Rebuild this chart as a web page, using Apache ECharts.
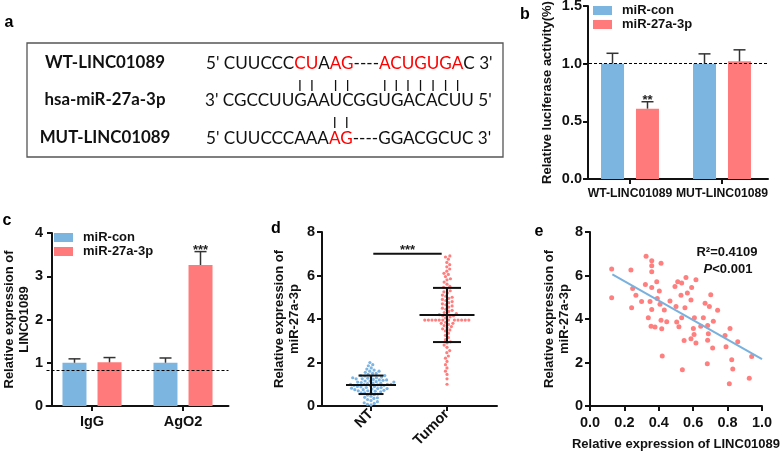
<!DOCTYPE html>
<html><head><meta charset="utf-8">
<script src="https://cdn.jsdelivr.net/npm/echarts@6/dist/echarts.min.js"></script>
<style>html,body{margin:0;padding:0;background:#fff}#c{width:783px;height:452px}</style>
</head><body><div id="c"></div>
<script>
// ---------------- data ----------------
// panel a
const seqLabels = ['WT-LINC01089', 'hsa-miR-27a-3p', 'MUT-LINC01089'];
const seqWT  = [["5' CUUCCC", 0], ["CU", 1], ["A", 0], ["AG", 1], ["----", 0], ["ACUGUGA", 1], ["C 3'", 0]];
const seqMiR = [["3' CGCCUUGAAUCGGUGACACUU 5'", 0]];
const seqMUT = [["5' CUUCCCAAA", 0], ["AG", 1], ["----GGACGCUC 3'", 0]];

// panel b
const groupNames = ['miR-con', 'miR-27a-3p'];
const bCats = ['WT-LINC01089', 'MUT-LINC01089'];
const bCon = [1.0, 1.0];
const bConSD = [0.09, 0.085];
const bMiR = [0.61, 1.02];
const bMiRSD = [0.06, 0.10];
const bMiRSig = ['**', ''];
const bRef = 1.0;

// panel c
const cCats = ['IgG', 'AgO2'];
const cCon = [1.0, 1.0];
const cConSD = [0.09, 0.11];
const cMiR = [1.01, 3.26];
const cMiRSD = [0.11, 0.31];
const cMiRSig = ['', '***'];
const cRef = 0.82;

// panel d
const dCats = ['NT', 'Tumor'];
const dNT = [2.0, 1.9, 1.85, 1.75, 1.7, 1.65, 1.6, 1.6, 1.55, 1.5, 1.5, 1.45,
  1.4, 1.4, 1.38, 1.35, 1.33, 1.3, 1.3, 1.28, 1.25, 1.25, 1.22, 1.2, 1.2, 1.18, 1.15, 1.15,
  1.12, 1.1, 1.1, 1.08, 1.05, 1.05, 1.03, 1.0, 1.0, 1.0, 0.98, 0.97, 0.95, 0.95, 0.93, 0.9, 0.9, 0.88, 0.85, 0.85,
  0.82, 0.8, 0.8, 0.78, 0.75, 0.75, 0.72, 0.7, 0.7, 0.68, 0.65, 0.62, 0.6, 0.6, 0.55,
  0.52, 0.5, 0.45, 0.4, 0.38, 0.35, 0.3, 0.25, 0.2, 0.15, 0.12, 0.08, 0.05];
const dTumor = [6.9, 6.85, 6.75, 6.6, 6.5, 6.4, 6.3, 6.2, 6.1, 6.05, 5.95, 5.85, 5.8, 5.7, 5.6, 5.5, 5.45, 5.4,
  5.3, 5.25, 5.2, 5.1, 5.05, 5.0, 4.95, 4.9, 4.85, 4.8, 4.75, 4.7, 4.65, 4.6, 4.55, 4.5, 4.45, 4.4, 4.35, 4.3,
  4.25, 4.2, 4.2, 4.15, 4.15, 4.1, 4.05,
  3.95, 3.95, 3.95, 3.95, 3.95, 3.95, 3.95, 3.95, 3.95, 3.95, 3.95, 3.95,
  3.85, 3.8, 3.8, 3.75, 3.7, 3.65, 3.6, 3.55, 3.5, 3.45, 3.35, 3.25, 3.15, 3.05, 2.95, 2.9, 2.8, 2.7, 2.55,
  2.45, 2.3, 2.2, 2.05, 1.9, 1.75, 1.6, 1.45, 1.25, 1.0];
const dMean = [0.97, 4.18];
const dSDLow = [0.55, 2.94];
const dSDHigh = [1.40, 5.43];
const dSigY = 7.0;
const dSig = '***';

// panel e
const eX = [0.126, 0.126, 0.238, 0.248, 0.267, 0.242, 0.300, 0.322, 0.326, 0.339, 0.349, 0.355, 0.359, 0.359, 0.359,
  0.359, 0.359, 0.378, 0.388, 0.391, 0.403, 0.407, 0.413, 0.413, 0.417, 0.420, 0.432, 0.446, 0.465, 0.494, 0.500,
  0.504, 0.510, 0.517, 0.529, 0.533, 0.533, 0.537, 0.547, 0.552, 0.558, 0.566, 0.587, 0.587, 0.591, 0.601, 0.605,
  0.607, 0.616, 0.616, 0.644, 0.659, 0.669, 0.682, 0.684, 0.684, 0.688, 0.694, 0.702, 0.713, 0.717, 0.742, 0.785,
  0.791, 0.810, 0.814, 0.824, 0.830, 0.859, 0.926, 0.940];
const eY = [6.30, 4.98, 6.25, 5.40, 5.09, 4.52, 4.80, 5.59, 6.88, 4.06, 4.80, 3.67, 6.68, 6.45, 6.17,
  5.45, 4.44, 3.63, 5.71, 4.94, 5.29, 4.68, 6.56, 3.94, 3.55, 2.30, 4.41, 3.87, 4.83, 5.49, 4.57,
  3.86, 5.71, 3.64, 5.09, 5.65, 4.06, 1.67, 3.01, 4.52, 5.91, 5.19, 4.87, 3.09, 5.45, 3.56, 3.29,
  4.06, 5.80, 2.90, 3.67, 4.06, 4.72, 1.94, 3.70, 3.02, 3.32, 4.57, 5.11, 2.67, 3.90, 4.40, 3.24,
  2.72, 1.02, 3.56, 2.13, 1.70, 2.95, 1.28, 2.28];
const eFitX = [0.13, 1.0];
const eFitY = [6.05, 2.15];
const eR2 = 'R²=0.4109';
const ePval = '<0.001';

// ---------------- styling ----------------
const F = '"Liberation Sans", Arial, sans-serif';
const BLUE = '#7DB5E1', RED = '#FF7B7B';
const BLUE_DOT = '#7DB5E3', RED_DOT = '#FF7F7F';
const INK = '#111';
const axLine = {show: true, onZero: false, lineStyle: {color: INK, width: 2}};
const axTick = {show: true, length: 5, inside: false, lineStyle: {color: INK, width: 2}};
const lab = (size, margin) => ({color: INK, fontFamily: F, fontWeight: 'bold', fontSize: size, margin: margin});
const nameStyle = {color: INK, fontFamily: F, fontWeight: 'bold', fontSize: 13, lineHeight: 15};

const cv = document.createElement('canvas').getContext('2d');
function tw(s, font) { cv.font = font; return cv.measureText(s).width; }

// ---------------- panel a graphics ----------------
const SEQF = 'Lato';
const row1Full = seqWT.map(s => s[0]).join('');
const fsSeq = 17 * 286 / tw(row1Full, '17px ' + SEQF);
const fsLab = 16 * 120 / tw(seqLabels[0], 'bold 16px ' + SEQF);
const seqRows = [[seqWT, 206, 63], [seqMiR, 205, 100], [seqMUT, 206, 138]];
const graphics = [];
graphics.push({type: 'rect', shape: {x: 27, y: 43, width: 476, height: 114}, style: {fill: 'none', stroke: '#555', lineWidth: 1.3}});
seqLabels.forEach((t, i) => {
  graphics.push({type: 'text', x: 105, y: seqRows[i][2], style: {text: t, fill: INK, fontFamily: SEQF, fontWeight: 'bold', fontSize: fsLab, align: 'center', textAlign: 'center', verticalAlign: 'middle', textVerticalAlign: 'middle'}});
});
function redCentres(segs, x0) {
  const out = []; let cum = 0; const f = fsSeq + 'px ' + SEQF;
  segs.forEach(([t, r]) => {
    if (r) for (let j = 0; j < t.length; j++) out.push(x0 + cum + tw(t.slice(0, j), f) + tw(t[j], f) / 2);
    cum += tw(t, f);
  });
  return out;
}
seqRows.forEach(([segs, x0, y]) => {
  const txt = segs.map(([t, r]) => '{' + (r ? 'r' : 'k') + '|' + t + '}').join('');
  graphics.push({type: 'text', x: x0, y: y, style: {text: txt, fontFamily: SEQF, fontSize: fsSeq, fill: INK, verticalAlign: 'middle', textVerticalAlign: 'middle',
    rich: {k: {fill: INK, fontFamily: SEQF, fontSize: fsSeq}, r: {fill: '#FF0000', fontFamily: SEQF, fontSize: fsSeq}}}});
});
redCentres(seqWT, 206).forEach(x => graphics.push({type: 'line', shape: {x1: x, y1: 80, x2: x, y2: 91}, style: {stroke: INK, lineWidth: 1.3}}));
redCentres(seqMUT, 206).forEach(x => graphics.push({type: 'line', shape: {x1: x, y1: 117, x2: x, y2: 128}, style: {stroke: INK, lineWidth: 1.3}}));

// panel letters
[['a', 9, 23], ['b', 525, 15], ['c', 7, 221], ['d', 276, 229], ['e', 539, 232]].forEach(([t, x, y]) => {
  graphics.push({type: 'text', x: x, y: y, style: {text: t, fill: '#000', fontFamily: F, fontWeight: 'bold', fontSize: 16, align: 'center', textAlign: 'center', verticalAlign: 'middle', textVerticalAlign: 'middle'}});
});
// panel e annotation
graphics.push({type: 'text', x: 727, y: 252, style: {text: eR2, fill: INK, fontFamily: F, fontWeight: 'bold', fontSize: 13, align: 'center', textAlign: 'center', verticalAlign: 'middle', textVerticalAlign: 'middle'}});
graphics.push({type: 'text', x: 728, y: 269, style: {text: '{i|P}{n|' + ePval + '}', fill: INK, fontFamily: F, fontWeight: 'bold', fontSize: 13, align: 'center', textAlign: 'center', verticalAlign: 'middle', textVerticalAlign: 'middle',
  rich: {i: {fontStyle: 'italic', fontWeight: 'bold', fontFamily: F, fontSize: 13, fill: INK}, n: {fontWeight: 'bold', fontFamily: F, fontSize: 13, fill: INK}}}});

// ---------------- series helpers ----------------
function errSeries(xi, vals, sds, sigs, off) {
  return {type: 'custom', xAxisIndex: xi, yAxisIndex: xi, z: 5, silent: true,
    data: vals.map((v, i) => [i, v, sds[i]]),
    renderItem: (params, api) => {
      const i = params.dataIndex;
      const b = api.coord([api.value(0), api.value(1)]);
      const t = api.coord([api.value(0), api.value(1) + api.value(2)]);
      const x = b[0] + off;
      const ch = [
        {type: 'line', shape: {x1: x, y1: b[1], x2: x, y2: t[1]}, style: {stroke: '#333', lineWidth: 1.5}},
        {type: 'line', shape: {x1: x - 6, y1: t[1], x2: x + 6, y2: t[1]}, style: {stroke: '#333', lineWidth: 1.5}}
      ];
      if (sigs && sigs[i]) ch.push({type: 'text', x: x, y: t[1] - 1.5, style: {text: sigs[i], fill: '#222', fontFamily: F, fontWeight: 'bold', fontSize: 13, align: 'center', verticalAlign: 'middle'}});
      return {type: 'group', children: ch};
    }};
}
const refLine = (v) => ({silent: true, symbol: 'none', label: {show: false}, lineStyle: {type: [3, 2], color: '#000', width: 1.2}, data: [{yAxis: v}]});

const option = {
  animation: false,
  backgroundColor: '#fff',
  graphic: {elements: graphics},
  legend: [
    {left: 593, top: 4, orient: 'vertical', itemGap: 1, itemWidth: 19, itemHeight: 9, icon: 'rect', selectedMode: false, padding: 0,
      data: groupNames, textStyle: {fontFamily: F, fontWeight: 'bold', fontSize: 13, color: INK, padding: [0, 0, 0, 5]}},
    {left: 54, top: 231, orient: 'vertical', itemGap: 1, itemWidth: 19, itemHeight: 9, icon: 'rect', selectedMode: false, padding: 0,
      data: groupNames, textStyle: {fontFamily: F, fontWeight: 'bold', fontSize: 13, color: INK, padding: [0, 0, 0, 5]}}
  ],
  grid: [
    {left: 584, top: 6, width: 184, height: 173, containLabel: false, outerBoundsMode: 'none'},
    {left: 46.5, top: 233, width: 182, height: 173, containLabel: false, outerBoundsMode: 'none'},
    {left: 322, top: 232, width: 175, height: 174, containLabel: false, outerBoundsMode: 'none'},
    {left: 590, top: 232, width: 172, height: 174, containLabel: false, outerBoundsMode: 'none'}
  ],
  xAxis: [
    {gridIndex: 0, type: 'category', data: bCats, axisLine: axLine, axisTick: Object.assign({alignWithLabel: true}, axTick),
      axisLabel: Object.assign({interval: 0}, lab(12.2, 9)), splitLine: {show: false}},
    {gridIndex: 1, type: 'category', data: cCats, axisLine: axLine, axisTick: Object.assign({alignWithLabel: true}, axTick),
      axisLabel: Object.assign({interval: 0}, lab(14.5, 8)), splitLine: {show: false}},
    {gridIndex: 2, type: 'value', min: 0.355, max: 2.658, axisLine: axLine, axisTick: Object.assign({customValues: [1, 2]}, axTick),
      axisLabel: Object.assign({customValues: [1, 2], rotate: 45, formatter: v => dCats[Math.round(v) - 1] || ''}, lab(14.5, 6)), splitLine: {show: false}},
    {gridIndex: 3, type: 'value', min: 0, max: 1, interval: 0.2, axisLine: axLine, axisTick: axTick,
      axisLabel: Object.assign({formatter: v => v.toFixed(1)}, lab(14.5, 9)), splitLine: {show: false},
      name: 'Relative expression of LINC01089', nameLocation: 'middle', nameGap: 31, nameTextStyle: nameStyle, nameMoveOverlap: false}
  ],
  yAxis: [
    {gridIndex: 0, type: 'value', min: 0, max: 1.5, interval: 0.5, offset: -4, axisLine: axLine, axisTick: axTick,
      axisLabel: Object.assign({formatter: v => v.toFixed(1)}, lab(14.5, 6)), splitLine: {show: false},
      name: 'Relative luciferase activity(%)', nameLocation: 'middle', nameGap: 33, nameTextStyle: nameStyle, nameMoveOverlap: false},
    {gridIndex: 1, type: 'value', min: 0, max: 4, interval: 1, offset: -5.5, axisLine: axLine, axisTick: axTick,
      axisLabel: lab(14.5, 9), splitLine: {show: false},
      name: 'Relative expression of\nLINC01089', nameLocation: 'middle', nameGap: 20, nameTextStyle: nameStyle, nameMoveOverlap: false},
    {gridIndex: 2, type: 'value', min: 0, max: 8, interval: 2, axisLine: axLine, axisTick: axTick,
      axisLabel: lab(14.5, 7), splitLine: {show: false},
      name: 'Relative expression of\nmiR-27a-3p', nameLocation: 'middle', nameGap: 20, nameTextStyle: nameStyle, nameMoveOverlap: false},
    {gridIndex: 3, type: 'value', min: 0, max: 8, interval: 2, axisLine: axLine, axisTick: axTick,
      axisLabel: lab(14.5, 7), splitLine: {show: false},
      name: 'Relative expression of\nmiR-27a-3p', nameLocation: 'middle', nameGap: 18, nameTextStyle: nameStyle, nameMoveOverlap: false}
  ],
  series: [
    {name: groupNames[0], type: 'bar', xAxisIndex: 0, yAxisIndex: 0, data: bCon, barWidth: 23, barGap: '52%', itemStyle: {color: BLUE}},
    {name: groupNames[1], type: 'bar', xAxisIndex: 0, yAxisIndex: 0, data: bMiR, barWidth: 23, barGap: '52%', itemStyle: {color: RED}, markLine: refLine(bRef)},
    errSeries(0, bCon, bConSD, null, -17.5),
    errSeries(0, bMiR, bMiRSD, bMiRSig, 17.5),
    {name: groupNames[0], type: 'bar', xAxisIndex: 1, yAxisIndex: 1, data: cCon, barWidth: 24, barGap: '46%', itemStyle: {color: BLUE}},
    {name: groupNames[1], type: 'bar', xAxisIndex: 1, yAxisIndex: 1, data: cMiR, barWidth: 24, barGap: '46%', itemStyle: {color: RED}, markLine: refLine(cRef)},
    errSeries(1, cCon, cConSD, null, -17.5),
    errSeries(1, cMiR, cMiRSD, cMiRSig, 17.5),
    {id: 'dNT', type: 'scatter', xAxisIndex: 2, yAxisIndex: 2, symbolSize: 3.2, itemStyle: {color: BLUE_DOT, opacity: 1}, data: dNT.map(v => [1, v]), silent: true},
    {id: 'dTumor', type: 'scatter', xAxisIndex: 2, yAxisIndex: 2, symbolSize: 3.2, itemStyle: {color: RED_DOT, opacity: 1}, data: dTumor.map(v => [2, v]), silent: true},
    {type: 'custom', xAxisIndex: 2, yAxisIndex: 2, z: 6, silent: true,
      data: dMean.map((m, i) => [i + 1, m, dSDLow[i], dSDHigh[i]]),
      renderItem: (params, api) => {
        const i = params.dataIndex;
        const c = api.coord([api.value(0), api.value(1)]);
        const lo = api.coord([api.value(0), api.value(2)]);
        const hi = api.coord([api.value(0), api.value(3)]);
        const mh = [25, 27.5][i], sh = [12.5, 14][i];
        const st = {stroke: INK, lineWidth: 2};
        return {type: 'group', children: [
          {type: 'line', shape: {x1: c[0] - mh, y1: c[1], x2: c[0] + mh, y2: c[1]}, style: st},
          {type: 'line', shape: {x1: c[0] - sh, y1: lo[1], x2: c[0] + sh, y2: lo[1]}, style: st},
          {type: 'line', shape: {x1: c[0] - sh, y1: hi[1], x2: c[0] + sh, y2: hi[1]}, style: st},
          {type: 'line', shape: {x1: c[0], y1: lo[1], x2: c[0], y2: hi[1]}, style: st}
        ]};
      }},
    {type: 'custom', xAxisIndex: 2, yAxisIndex: 2, z: 6, silent: true,
      data: [[1.03, 1.93, dSigY]],
      renderItem: (params, api) => {
        const a = api.coord([api.value(0), api.value(2)]);
        const b = api.coord([api.value(1), api.value(2)]);
        return {type: 'group', children: [
          {type: 'line', shape: {x1: a[0], y1: a[1], x2: b[0], y2: b[1]}, style: {stroke: INK, lineWidth: 2}},
          {type: 'text', x: (a[0] + b[0]) / 2, y: a[1] - 3, style: {text: dSig, fill: '#222', fontFamily: F, fontWeight: 'bold', fontSize: 13, align: 'center', verticalAlign: 'middle'}}
        ]};
      }},
    {type: 'scatter', xAxisIndex: 3, yAxisIndex: 3, symbolSize: 5, itemStyle: {color: RED_DOT, opacity: 1}, data: eX.map((x, i) => [x, eY[i]]), silent: true},
    {type: 'line', xAxisIndex: 3, yAxisIndex: 3, showSymbol: false, symbol: 'none', z: 4, silent: true,
      lineStyle: {color: '#79B1DE', width: 2}, data: eFitX.map((x, i) => [x, eFitY[i]])}
  ]
};

const chart = echarts.init(document.getElementById('c'), null, {renderer: 'canvas'});
chart.setOption(option);

// beeswarm layout for panel d (horizontal offsets only, values untouched)
function swarm(vals, centre, dpx) {
  const p0 = chart.convertToPixel({gridIndex: 2}, [1, 0]);
  const p1 = chart.convertToPixel({gridIndex: 2}, [2, 1]);
  const kx = p1[0] - p0[0], ky = p0[1] - p1[1];
  const order = vals.map((v, i) => i).sort((a, b) => vals[a] - vals[b]);
  const placed = []; const xs = new Array(vals.length);
  order.forEach(idx => {
    const y = vals[idx] * ky;
    const iv = [];
    placed.forEach(p => { const dy = Math.abs(p.y - y); if (dy < dpx) { const w = Math.sqrt(dpx * dpx - dy * dy); iv.push([p.x - w, p.x + w]); } });
    const cands = [0]; iv.forEach(([a, b]) => { cands.push(a, b); });
    cands.sort((a, b) => Math.abs(a) - Math.abs(b));
    let x = 0;
    for (const c of cands) { if (!iv.some(([a, b]) => c > a + 1e-6 && c < b - 1e-6)) { x = c; break; } }
    placed.push({x: x, y: y});
    xs[idx] = centre + x / kx;
  });
  return vals.map((v, i) => [xs[i], v]);
}
chart.setOption({series: [{id: 'dNT', data: swarm(dNT, 1, 3.6)}, {id: 'dTumor', data: swarm(dTumor, 2, 3.6)}]});
</script></body></html>
